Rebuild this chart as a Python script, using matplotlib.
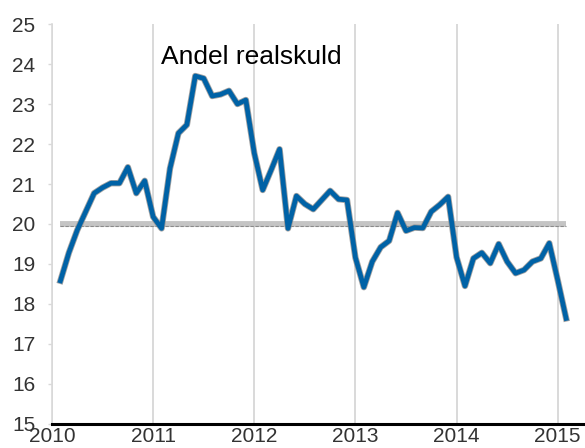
import numpy as np
import matplotlib
matplotlib.use("Agg")
from matplotlib import pyplot as plt
from matplotlib import patheffects as pe

plt.rcParams['font.family'] = ['Liberation Sans', 'DejaVu Sans']

# månedlige observationer, jan 2010 - jan 2015
years = [2010, 2011, 2012, 2013, 2014, 2015]
andel = [
    18.58, 19.28, 19.85, 20.31, 20.77, 20.91, 21.02, 21.02, 21.42, 20.77, 21.08, 20.18,
    19.89, 21.39, 22.27, 22.48, 23.70, 23.64, 23.20, 23.24, 23.33, 23.00, 23.10, 21.77,
    20.85, 21.35, 21.87, 19.89, 20.70, 20.50, 20.37, 20.60, 20.83, 20.62, 20.60, 19.16,
    18.42, 19.06, 19.42, 19.58, 20.28, 19.83, 19.91, 19.90, 20.31, 20.48, 20.68, 19.17,
    18.45, 19.14, 19.28, 19.02, 19.50, 19.06, 18.77, 18.85, 19.06, 19.14, 19.52, 18.60,
    17.64,
]
gennemsnit = 20.0
yticks = list(range(15, 26))
title = "Andel realskuld"

# punkter ligger ved månedens udgang
x = np.array([2010 + (i + 1) / 12 for i in range(len(andel))])

fig = plt.figure(figsize=(5.85, 4.48), dpi=100)
ax = fig.add_axes([0.0889, 0.0536, 0.9111, 0.8928])

# vandret linje ved gennemsnit
ax.plot(x, [gennemsnit] * len(x), color='#c4c4c4', lw=4.2, solid_capstyle='butt', zorder=2)
ax.plot(x, [gennemsnit - 0.04] * len(x), color='#8a8a8a', lw=0.8, ls=(0, (3, 1.5)), zorder=2)

ax.plot(x, andel, color='#0062a6', lw=3.4, zorder=3,
        path_effects=[pe.Stroke(linewidth=4.6, foreground='#8c8c8c', alpha=0.8), pe.Normal()])

ax.text(2011.97, 24.17, title, ha='center', va='center', fontsize=19, color='black')

ax.set_xlim(2010, 2015.27)
ax.set_ylim(15, 25)
ax.set_xticks(years)
ax.set_xticklabels([str(y) for y in years])
ax.set_yticks(yticks)

for yr in years:
    ax.axvline(yr, color='#d9d9d9', lw=1.4, zorder=1)

for s in ['top', 'right']:
    ax.spines[s].set_visible(False)
ax.spines['left'].set_color('#d9d9d9')
ax.spines['left'].set_linewidth(1.2)
ax.spines['bottom'].set_color('black')
ax.spines['bottom'].set_linewidth(2.2)
ax.spines['bottom'].set_zorder(4)

ax.tick_params(axis='y', direction='out', length=3, width=1, color='#d9d9d9',
               labelsize=15, labelcolor='#333333', pad=9)
ax.tick_params(axis='x', length=0, labelsize=15, labelcolor='#333333', pad=2)

fig.savefig('out.png', dpi=100)
